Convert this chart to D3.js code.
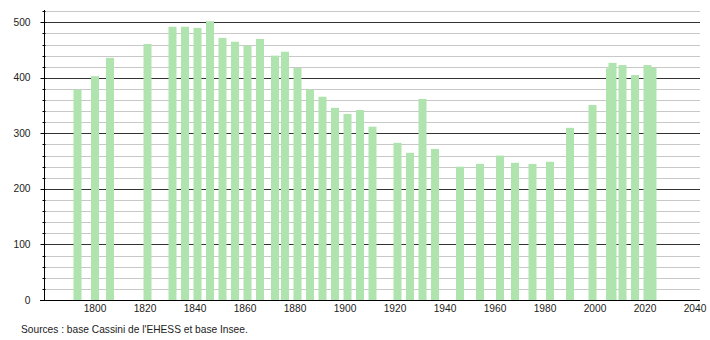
<!DOCTYPE html>
<html>
<head>
<meta charset="utf-8">
<script src="https://cdn.jsdelivr.net/npm/d3@7"></script>
<style>
  body { margin: 0; background: #fff; }
  text { font-family: "Liberation Sans", Arial, sans-serif; }
</style>
</head>
<body>
<div id="chart"></div>
<script>
(function (d3) {
  'use strict';

  // census years and population
  const years = [1793, 1800, 1806, 1821, 1831, 1836, 1841, 1846, 1851, 1856,
                 1861, 1866, 1872, 1876, 1881, 1886, 1891, 1896, 1901, 1906,
                 1911, 1921, 1926, 1931, 1936, 1946, 1954, 1962, 1968, 1975,
                 1982, 1990, 1999, 2006, 2007, 2011, 2016, 2021, 2023];
  const population = [379, 403, 436, 461, 492, 492, 490, 502, 472, 465,
                      458, 470, 440, 447, 418, 379, 366, 346, 335, 342,
                      312, 283, 265, 362, 272, 240, 245, 260, 247, 245,
                      249, 310, 351, 417, 427, 423, 405, 423, 418];
  const xTicks = [1800, 1820, 1840, 1860, 1880, 1900, 1920, 1940, 1960, 1980, 2000, 2020, 2040];
  const yTicks = [0, 100, 200, 300, 400, 500];
  const source = "Sources : base Cassini de l'EHESS et base Insee.";

  var width = 710,
      height = 340,
      barWidth = 8,
      fontSize = 10.2;

  var x = d3.scaleLinear().domain([1780, 2042]).range([45, 700]);
  var y = d3.scaleLinear().domain([0, 520]).range([300, 11.2]);

  var svg = d3.select('#chart').append('svg')
      .attr('width', width)
      .attr('height', height);

  // grid lines: light every 20, dark every 100
  svg.append('g').selectAll('line').data(d3.range(20, 521, 20)).enter()
    .append('line')
      .attr('x1', 44).attr('x2', 700)
      .attr('y1', function (d) { return Math.round(y(d)) + 0.5; })
      .attr('y2', function (d) { return Math.round(y(d)) + 0.5; })
      .attr('stroke', function (d) { return d % 100 === 0 ? '#333' : '#c8c8c8'; })
      .attr('stroke-width', 1);

  // bars
  svg.append('g').selectAll('rect').data(years).enter()
    .append('rect')
      .attr('x', function (d) { return x(d) - barWidth / 2; })
      .attr('y', function (d, i) { return y(population[i]); })
      .attr('width', barWidth)
      .attr('height', function (d, i) { return y(0) - y(population[i]); })
      .attr('fill', '#afe4af');

  // y axis with minor ticks
  var yAxis = svg.append('g').attr('transform', 'translate(44.5,0)');
  yAxis.append('line')
      .attr('y1', 10).attr('y2', 300)
      .attr('stroke', '#000');
  yAxis.selectAll('line.minor').data(d3.range(0, 521, 20)).enter()
    .append('line')
      .attr('class', 'minor')
      .attr('x1', function (d) { return d % 100 === 0 ? -4 : -2; })
      .attr('x2', 1)
      .attr('y1', function (d) { return Math.round(y(d)) + 0.5; })
      .attr('y2', function (d) { return Math.round(y(d)) + 0.5; })
      .attr('stroke', '#000');
  yAxis.selectAll('text').data(yTicks).enter()
    .append('text')
      .attr('x', -14)
      .attr('y', function (d) { return y(d); })
      .attr('dy', '0.35em')
      .attr('text-anchor', 'end')
      .attr('font-size', fontSize)
      .attr('fill', '#222')
      .text(function (d) { return d; });

  // x axis
  svg.append('line')
      .attr('x1', 40).attr('x2', 700)
      .attr('y1', 300.5).attr('y2', 300.5)
      .attr('stroke', '#000');
  svg.append('g').selectAll('text').data(xTicks).enter()
    .append('text')
      .attr('x', function (d) { return x(d); })
      .attr('y', 312)
      .attr('text-anchor', 'middle')
      .attr('font-size', fontSize)
      .attr('fill', '#222')
      .text(function (d) { return d; });

  svg.append('text')
      .attr('x', 21)
      .attr('y', 333)
      .attr('font-size', fontSize)
      .attr('fill', '#222')
      .text(source);
})(d3);
</script>
</body>
</html>
